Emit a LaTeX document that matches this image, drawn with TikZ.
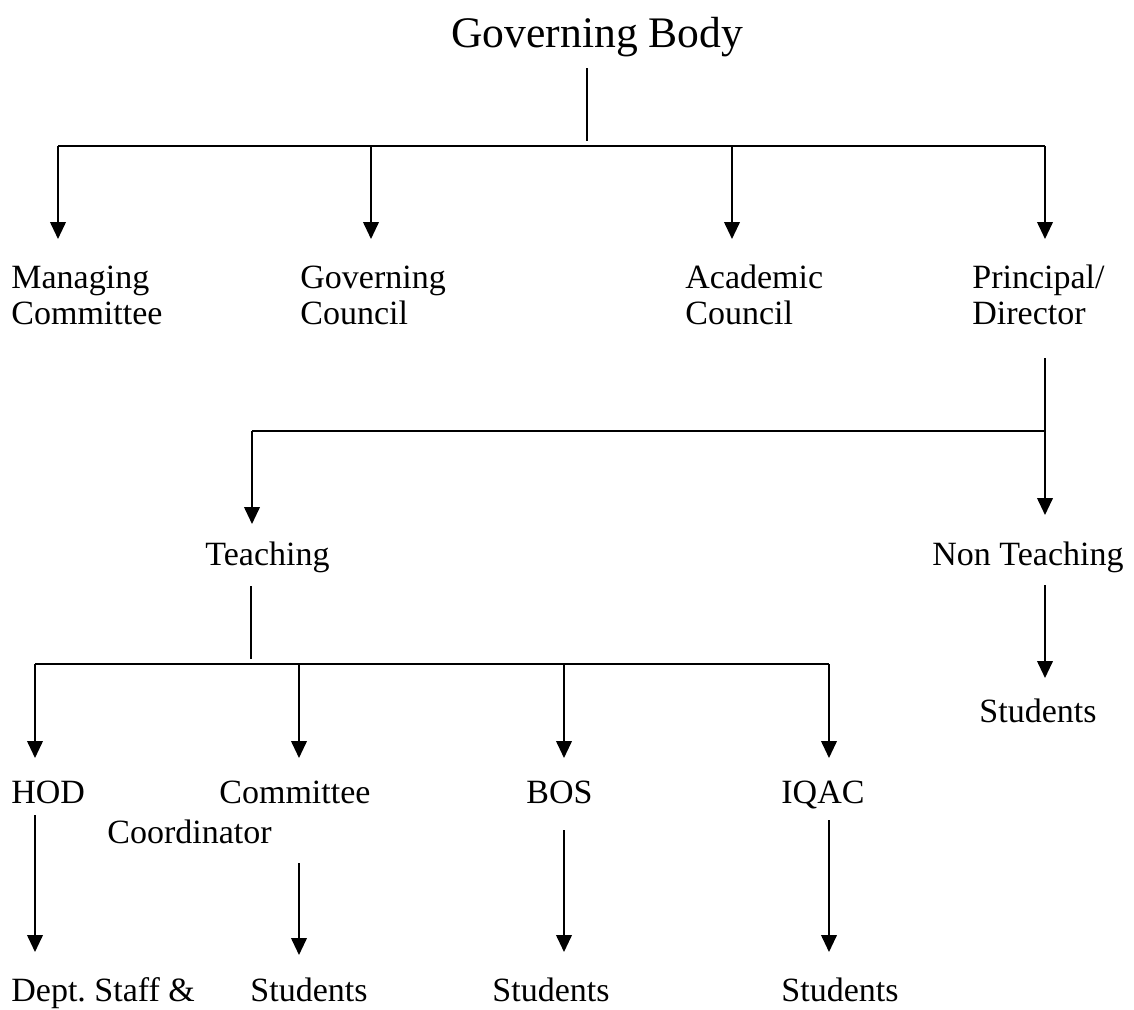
\documentclass[tikz,border=0pt]{standalone}
\usepackage{fontspec}
\setmainfont{Liberation Serif}
\usetikzlibrary{arrows.meta}
\begin{document}
\begin{tikzpicture}[x=0.5pt,y=-0.5pt,
  lbl/.style={anchor=base west,inner sep=0pt,align=left,font=\fontsize{17}{18}\selectfont},
  ttl/.style={anchor=base west,inner sep=0pt,font=\fontsize{21.8}{24}\selectfont},
  ln/.style={line width=1pt},
  arr/.style={line width=1pt,-{Triangle[length=8.5pt,width=7.8pt]}}]
\useasboundingbox (0,0) rectangle (1134,1009);
% nodes (multi-line nodes are placed by the baseline of their last line)
\node[ttl] (gb) at (451,47) {Governing Body};
\node[lbl] (mc) at (11,324) {Managing\\Committee};
\node[lbl] (gc) at (300,324) {Governing\\Council};
\node[lbl] (ac) at (685,324) {Academic\\Council};
\node[lbl] (pd) at (972,324) {Principal/\\Director};
\node[lbl] (te) at (205,565) {Teaching};
\node[lbl] (nt) at (932,565) {Non Teaching};
\node[lbl] (s0) at (979,722) {Students};
\node[lbl] (hod) at (11,803) {HOD};
\node[lbl] (cc) at (107,843) {\hspace*{56pt}Committee\\[2pt]Coordinator};
\node[lbl] (bos) at (526,803) {BOS};
\node[lbl] (iq) at (781,803) {IQAC};
\node[lbl] (ds) at (11,1001) {Dept.\ Staff \&};
\node[lbl] (s1) at (250,1001) {Students};
\node[lbl] (s2) at (492,1001) {Students};
\node[lbl] (s3) at (781,1001) {Students};
% coordinates
\coordinate (gbb) at (587,68);
\coordinate (gbj) at (587,141);
\coordinate (hL) at (58,146);
\coordinate (hR) at (1045,146);
\coordinate (mct) at (58,239);
\coordinate (gcj) at (371,146);
\coordinate (gct) at (371,239);
\coordinate (acj) at (732,146);
\coordinate (act) at (732,239);
\coordinate (pdt) at (1045,239);
\coordinate (pdb) at (1045,358);
\coordinate (pdj) at (1045,431);
\coordinate (ntt) at (1045,515);
\coordinate (tej) at (252,431);
\coordinate (tet) at (252,524);
\coordinate (teb) at (251,586);
\coordinate (tej2) at (251,659);
\coordinate (h2L) at (35,664);
\coordinate (h2R) at (829,664);
\coordinate (hodt) at (35,758);
\coordinate (ccj) at (299,664);
\coordinate (cct) at (299,758);
\coordinate (bosj) at (564,664);
\coordinate (bost) at (564,758);
\coordinate (iqt) at (829,758);
\coordinate (ntb) at (1045,585);
\coordinate (s0t) at (1045,678);
\coordinate (hodb) at (35,815);
\coordinate (dst) at (35,952);
\coordinate (ccb) at (299,863);
\coordinate (s1t) at (299,955);
\coordinate (bosb) at (564,830);
\coordinate (s2t) at (564,952);
\coordinate (iqb) at (829,820);
\coordinate (s3t) at (829,952);
% connectors
\draw[ln] (gbb) -- (gbj);
\draw[ln] (hL) -- (hR);
\draw[arr] (hL) -- (mct);
\draw[arr] (gcj) -- (gct);
\draw[arr] (acj) -- (act);
\draw[arr] (hR) -- (pdt);
\draw[arr] (pdb) -- (ntt);
\draw[ln] (pdj) -- (tej);
\draw[arr] (tej) -- (tet);
\draw[ln] (teb) -- (tej2);
\draw[ln] (h2L) -- (h2R);
\draw[arr] (h2L) -- (hodt);
\draw[arr] (ccj) -- (cct);
\draw[arr] (bosj) -- (bost);
\draw[arr] (h2R) -- (iqt);
\draw[arr] (ntb) -- (s0t);
\draw[arr] (hodb) -- (dst);
\draw[arr] (ccb) -- (s1t);
\draw[arr] (bosb) -- (s2t);
\draw[arr] (iqb) -- (s3t);
\end{tikzpicture}
\end{document}
